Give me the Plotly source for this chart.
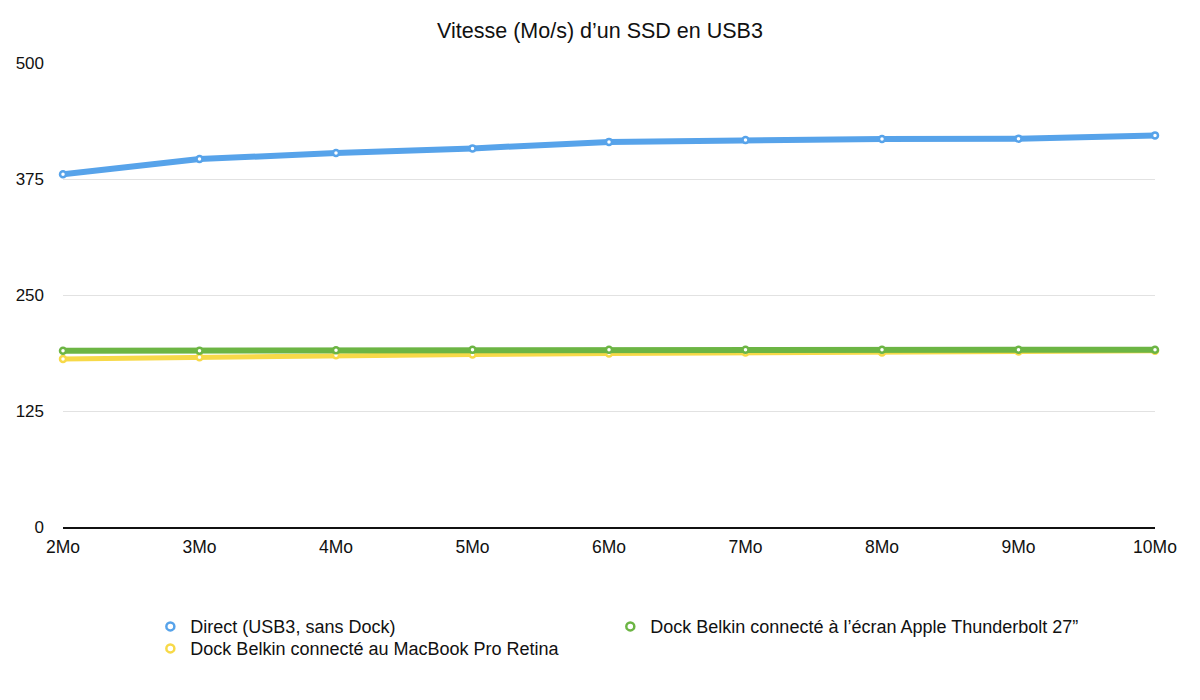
import plotly.graph_objects as go

categories = ["2Mo", "3Mo", "4Mo", "5Mo", "6Mo", "7Mo", "8Mo", "9Mo", "10Mo"]
direct = [380, 396.5, 403, 408, 415, 417, 418, 418.5, 422]
dock_macbook = [181, 183, 185, 186, 187, 188, 188, 189, 190]
dock_ecran = [190, 190, 190.5, 191, 191, 191, 191, 191, 191]

names = [
    "Direct (USB3, sans Dock)",
    "Dock Belkin connecté au MacBook Pro Retina",
    "Dock Belkin connecté à l’écran Apple Thunderbolt 27”",
]
colors = ["#57a3ea", "#f7d948", "#6cb544"]
y_ticks = [0, 125, 250, 375, 500]

FONT = "Liberation Sans, Arial, Helvetica, sans-serif"

fig = go.Figure()

# main lines (yellow below green)
for vals, name, col, lw in [
    (dock_macbook, names[1], colors[1], 5),
    (dock_ecran, names[2], colors[2], 6),
    (direct, names[0], colors[0], 6),
]:
    fig.add_trace(go.Scatter(
        x=categories, y=vals, mode="lines+markers", name=name,
        line=dict(color=col, width=lw),
        marker=dict(size=6, color="white", line=dict(color=col, width=2.5)),
        showlegend=False, cliponaxis=False, hoverinfo="x+y+name",
    ))

# legend entries: blue (row 1, col 1), green (row 1, col 2), yellow (row 2, col 1)
for idx, lg in [(0, "legend"), (2, "legend2"), (1, "legend3")]:
    fig.add_trace(go.Scatter(
        x=[None], y=[None], mode="markers", name=names[idx],
        marker=dict(size=8, color="white", line=dict(color=colors[idx], width=2.5)),
        showlegend=True, legend=lg,
    ))

legend_font = dict(family=FONT, size=18, color="#111111")
row1_y = -0.175
row2_y = -0.175 - 22 / 464

fig.update_layout(
    width=1200, height=700,
    margin=dict(l=63, r=45, t=63, b=173),
    paper_bgcolor="white", plot_bgcolor="white",
    font=dict(family=FONT, size=17, color="#111111"),
    title=dict(text="Vitesse (Mo/s) d’un SSD en USB3", x=0.5, xanchor="center",
               y=1 - 30 / 700, yanchor="middle", yref="container",
               font=dict(family=FONT, size=21.5, color="#111111")),
    xaxis=dict(
        type="category", range=[0, 8], showgrid=False, showline=True,
        linecolor="#111111", linewidth=2, ticks="", ticklabelstandoff=3,
        zeroline=False, tickfont=dict(size=17.5),
    ),
    yaxis=dict(
        range=[0, 500], tickvals=y_ticks, ticktext=[str(v) for v in y_ticks],
        showgrid=True, gridcolor="#e2e2e2", gridwidth=1, showline=False,
        zeroline=False, ticks="", ticklabelstandoff=18, tickfont=dict(size=17),
    ),
    legend=dict(
        orientation="v", x=0.08, xanchor="left", y=row1_y, yanchor="top",
        font=legend_font, itemclick=False, bgcolor="rgba(0,0,0,0)",
    ),
    legend2=dict(
        orientation="v", x=0.5012, xanchor="left", y=row1_y, yanchor="top",
        font=legend_font, itemclick=False, bgcolor="rgba(0,0,0,0)",
    ),
    legend3=dict(
        orientation="v", x=0.08, xanchor="left", y=row2_y, yanchor="top",
        font=legend_font, itemclick=False, bgcolor="rgba(0,0,0,0)",
    ),
)

fig.write_html("out.html")
